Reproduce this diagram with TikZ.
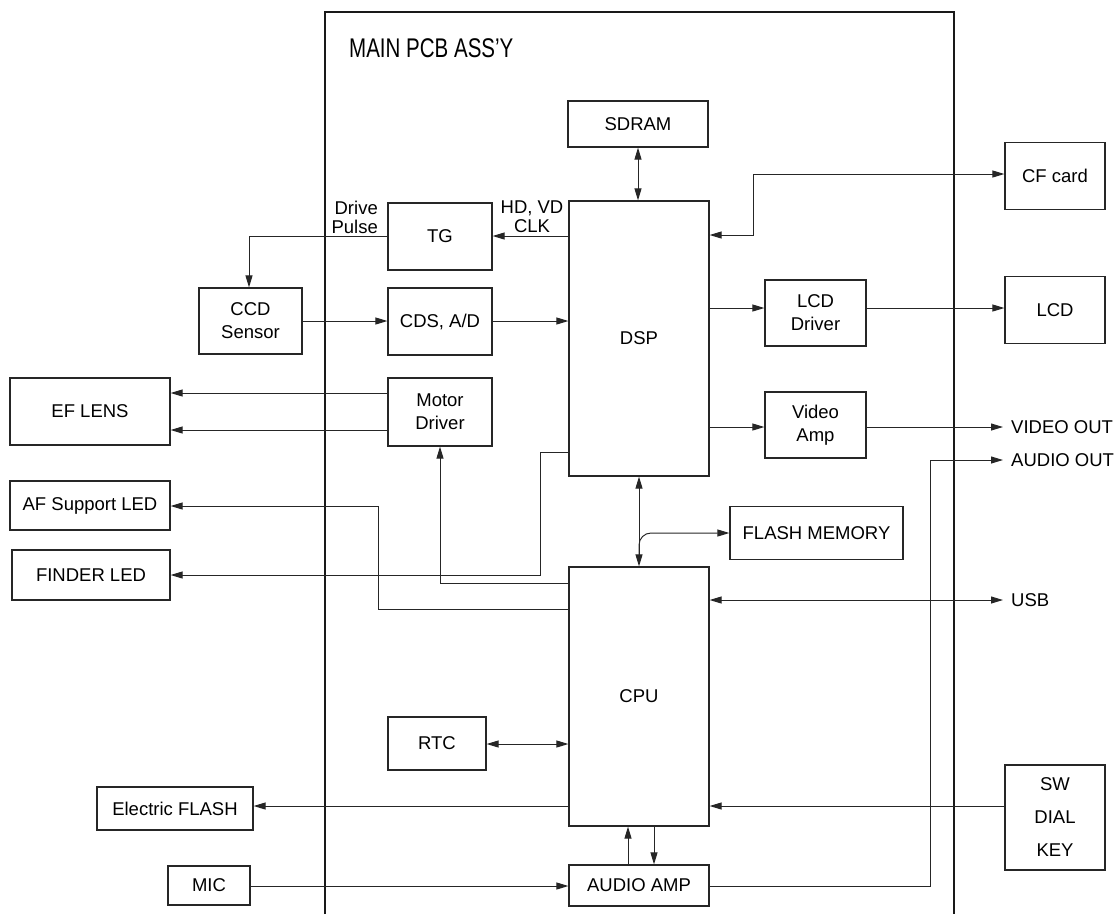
\documentclass[tikz,border=0pt]{standalone}
\usepackage{fontspec}
\setmainfont{Liberation Sans}
\usetikzlibrary{arrows.meta}
\newcommand{\boxfont}{\fontsize{18.5}{23}\selectfont}
\begin{document}
\begin{tikzpicture}[x=1pt,y=-1pt,
  box/.style={draw=black!85, line width=1.2pt, inner sep=0pt, align=center, font=\boxfont},
  lbl/.style={inner sep=0pt, font=\boxfont},
  wire/.style={draw=black!85, line width=1pt},
  arr/.style={wire, -{Triangle[length=12pt,width=7pt]}},
  darr/.style={wire, {Triangle[length=12pt,width=7pt]}-{Triangle[length=12pt,width=7pt]}},
  frame/.style={draw=black!90, line width=1.8pt}]
\useasboundingbox (0,0) rectangle (1119,914);
% frame
\draw[frame] (325,914) -- (325,12) -- (954,12) -- (954,914);
\node[anchor=west, inner sep=0pt, font=\fontsize{27}{30}\selectfont] (title) at (349,48) {\scalebox{0.76}[1]{MAIN PCB ASS'Y}};
% boxes
\node[box, minimum width=140, minimum height=46] (sdram) at (638,124) {SDRAM};
\node[box, minimum width=140, minimum height=275] (dsp) at (639,338.5) {DSP};
\node[box, minimum width=140, minimum height=259] (cpu) at (639,696.5) {CPU};
\node[box, minimum width=140, minimum height=41] (aamp) at (639,885.5) {AUDIO AMP};
\node[box, minimum width=104, minimum height=67] (tg) at (440,236.5) {TG};
\node[box, minimum width=104, minimum height=67] (cds) at (440,321.5) {CDS, A/D};
\node[box, minimum width=104, minimum height=68] (motor) at (440,412) {Motor\\Driver};
\node[box, minimum width=98, minimum height=53] (rtc) at (437,743.5) {RTC};
\node[box, minimum width=103, minimum height=66] (ccd) at (250.5,321) {CCD\\Sensor};
\node[box, minimum width=160, minimum height=67] (lens) at (90,411.5) {EF LENS};
\node[box, minimum width=160, minimum height=49] (afled) at (90,505.5) {AF Support LED};
\node[box, minimum width=158, minimum height=50] (finder) at (91,575) {FINDER LED};
\node[box, minimum width=156, minimum height=43] (eflash) at (175,808.5) {Electric FLASH};
\node[box, minimum width=82, minimum height=39] (mic) at (209,885.5) {MIC};
\node[box, minimum width=101, minimum height=66] (lcddrv) at (815.5,313) {LCD\\Driver};
\node[box, minimum width=101, minimum height=66] (vamp) at (815.5,425) {Video\\Amp};
\node[box, minimum width=173, minimum height=53] (fmem) at (816.5,533) {FLASH MEMORY};
\node[box, minimum width=100, minimum height=67] (cf) at (1055,176) {CF card};
\node[box, minimum width=100, minimum height=67] (lcd) at (1055,310) {LCD};
\node[box, minimum width=100, minimum height=105, font=\fontsize{18.5}{33}\selectfont] (sw) at (1055,817.5) {SW\\DIAL\\KEY};
% labels
\node[lbl, align=center, font=\fontsize{18.5}{19}\selectfont] (hdvd) at (532,217) {HD, VD\\CLK};
\node[lbl, align=right, anchor=east, font=\fontsize{18.5}{19}\selectfont] (drive) at (378,217) {Drive\\Pulse};
\node[lbl, anchor=west] (vout) at (1011,427) {VIDEO OUT};
\node[lbl, anchor=west] (aout) at (1011,460) {AUDIO OUT};
\node[lbl, anchor=west] (usb) at (1011,600) {USB};
\coordinate (voutp) at (1003,427);
\coordinate (aoutp) at (1003,460);
\coordinate (usbp) at (1003,600);
% connectors
\draw[darr] (sdram.south) -- (dsp.north -| sdram.south);
\draw[arr] (dsp.west |- 0,236) -- (tg.east |- 0,236);
\draw[arr] (tg.west |- 0,236) -- (249,236) -- (249,0 |- ccd.north);
\draw[arr] (ccd.east |- 0,321) -- (cds.west |- 0,321);
\draw[arr] (cds.east |- 0,321) -- (dsp.west |- 0,321);
\draw[darr] (dsp.east |- 0,235) -- (753,235) -- (753,174) -- (cf.west |- 0,174);
\draw[arr] (dsp.east |- 0,308) -- (lcddrv.west |- 0,308);
\draw[arr] (lcddrv.east |- 0,308) -- (lcd.west |- 0,308);
\draw[arr] (dsp.east |- 0,427) -- (vamp.west |- 0,427);
\draw[arr] (vamp.east |- 0,427) -- (voutp);
\draw[arr] (motor.west |- 0,393) -- (lens.east |- 0,393);
\draw[arr] (motor.west |- 0,430) -- (lens.east |- 0,430);
\draw[arr] (dsp.west |- 0,452) -- (540,452) -- (540,575) -- (finder.east |- 0,575);
\draw[arr] (cpu.west |- 0,609) -- (378,609) -- (378,506) -- (afled.east |- 0,506);
\draw[arr] (cpu.west |- 0,583) -- (440,583) -- (motor.south);
\draw[darr] (dsp.south -| 639,0) -- (cpu.north -| 639,0);
\draw[arr, rounded corners=12pt] (639,560) -- (639,533) -- (fmem.west |- 0,533);
\draw[darr] (cpu.east |- 0,600) -- (usbp);
\draw[darr] (rtc.east |- 0,744) -- (cpu.west |- 0,744);
\draw[arr] (cpu.west |- 0,806) -- (eflash.east |- 0,806);
\draw[arr] (sw.west |- 0,806) -- (cpu.east |- 0,806);
\draw[arr] (mic.east |- 0,886) -- (aamp.west |- 0,886);
\draw[arr] (aamp.north -| 628,0) -- (cpu.south -| 628,0);
\draw[arr] (cpu.south -| 654,0) -- (aamp.north -| 654,0);
\draw[arr] (aamp.east |- 0,886) -- (930,886) -- (930,460) -- (aoutp);
\end{tikzpicture}
\end{document}
